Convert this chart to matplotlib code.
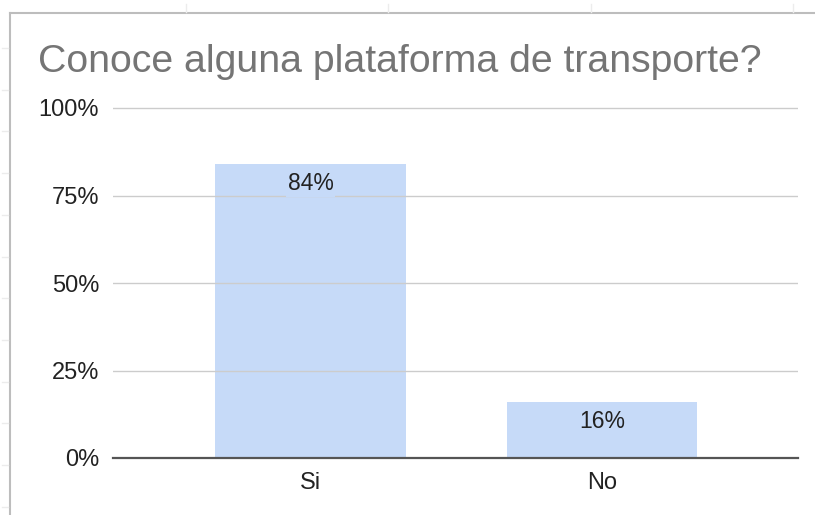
import matplotlib
matplotlib.use("Agg")
import matplotlib.pyplot as plt
from matplotlib.lines import Line2D
from matplotlib.ticker import FuncFormatter

plt.rcParams['font.family'] = ['Liberation Sans', 'DejaVu Sans']

categories = ["Si", "No"]
values = [0.84, 0.16]
value_labels = ["84%", "16%"]
yticks = [0, 0.25, 0.5, 0.75, 1.0]

W, H = 815, 515
bar_color = "#c6daf8"

fig = plt.figure(figsize=(W/100, H/100), dpi=100)

# axes placement in pixels (from top-left)
ax_left, ax_right = 113, 798
y0_px, unit_px = 458, 350   # 0% line and pixels per 100%
ytop = 1.02
ax = fig.add_axes([ax_left/W, (H - y0_px)/H, (ax_right - ax_left)/W, unit_px*ytop/H])

x = list(range(len(categories)))
ax.bar(x, values, width=0.652, color=bar_color, zorder=1)

for xi, v, lab in zip(x, values, value_labels):
    ax.annotate(lab, (xi, v), xytext=(0, -14.4), textcoords="offset points",
                ha="center", va="center", fontsize=16.5, color="#222222", zorder=4,
                bbox=dict(boxstyle="square,pad=0.05", fc=bar_color, ec="none"))

ax.set_xlim(-0.6775, 1.672)
ax.set_ylim(0, ytop)
ax.set_yticks(yticks)
ax.yaxis.set_major_formatter(FuncFormatter(lambda v, p: "%d%%" % round(v*100)))
ax.set_xticks(x)
ax.set_xticklabels(categories)
ax.tick_params(axis="y", length=0, pad=10, labelsize=17, labelcolor="#222222")
ax.tick_params(axis="x", length=0, pad=10, labelsize=17, labelcolor="#222222")

ax.grid(axis="y", color="#cccccc", linewidth=1, zorder=2)
ax.set_axisbelow(False)
for s in ["top", "right", "left"]:
    ax.spines[s].set_visible(False)
ax.spines["bottom"].set_color("#555555")
ax.spines["bottom"].set_linewidth(1.6)
ax.spines["bottom"].set_zorder(3)

fig.text(38/W, 1 - 72/H, "Conoce alguna plataforma de transporte?",
         fontsize=28.3, color="#757575", ha="left", va="baseline")

# spreadsheet frame around the chart
def px_line(xs, ys, **kw):
    fig.add_artist(Line2D([v/W for v in xs], [1 - v/H for v in ys],
                          transform=fig.transFigure, **kw))

px_line([10, 10], [13, 515], color="#bdbdbd", lw=1.5)
px_line([10, 815], [13, 13], color="#bdbdbd", lw=1.5)
for cx in [186, 388, 591, 793]:
    px_line([cx, cx], [4, 12], color="#ececec", lw=1)
for ry in [48, 90, 131, 173, 215, 257, 298, 340, 382, 423, 465, 507]:
    px_line([2, 8], [ry, ry], color="#ececec", lw=1)

fig.savefig("out.png", dpi=100)
